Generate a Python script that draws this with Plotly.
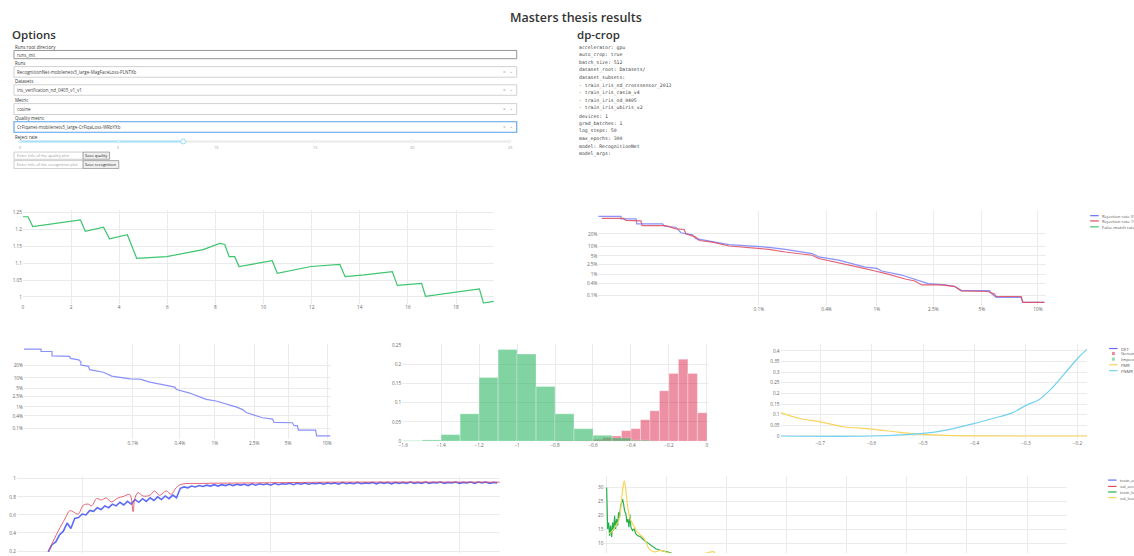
import plotly.graph_objects as go
from statistics import NormalDist

W, H = 1134, 556

# ---------------- data ----------------
# top-left: quality metric per epoch
q_epoch = [0, 0.21, 0.41, 2.39, 2.59, 3.35, 3.6, 4.34, 4.73, 5.97, 7.49, 8.18, 8.39, 8.57, 8.8, 8.98,
           10.36, 10.57, 11.97, 13.17, 13.39, 14.18, 15.35, 15.56, 16.57, 16.73, 18.97, 19.14, 19.56]
q_value = [1.237, 1.237, 1.208, 1.228, 1.194, 1.206, 1.172, 1.184, 1.114, 1.119, 1.140, 1.158, 1.155,
           1.119, 1.119, 1.090, 1.107, 1.070, 1.090, 1.096, 1.060, 1.065, 1.075, 1.034, 1.040, 1.002,
           1.024, 0.982, 0.987]

# top-right: DET curves with rejection (percent)
rej5_fmr = [0.0018, 0.0034, 0.0034, 0.0051, 0.0052, 0.0102, 0.0107, 0.0143, 0.0162, 0.0216, 0.0234,
            0.0348, 0.0441, 0.0513, 0.124, 0.176, 0.303, 0.344, 0.503, 0.644, 0.818, 1.0, 1.09, 1.52,
            1.98, 2.31, 2.97, 3.43, 3.77, 5.54, 5.6, 6.03, 8.22, 8.38, 10.75]
rej5_fnmr = [41.9, 41.9, 38.3, 38.3, 31.7, 31.7, 28.7, 27.5, 21.2, 19.1, 15.5, 13.3, 11.6, 10.9, 9.2,
             8.06, 5.98, 4.66, 3.62, 2.76, 2.02, 1.80, 1.42, 0.97, 0.59, 0.40, 0.351, 0.303, 0.185,
             0.185, 0.147, 0.081, 0.081, 0.043, 0.043]
rej10_fmr = [0.0020, 0.0036, 0.0039, 0.0058, 0.0060, 0.0111, 0.0143, 0.0176, 0.0183, 0.0234, 0.0254,
             0.0348, 0.0513, 0.124, 0.176, 0.303, 0.344, 0.503, 0.77, 0.97, 1.155, 1.61, 1.88, 2.09,
             2.83, 3.43, 3.77, 5.41, 5.9, 6.03, 8.22, 8.38, 10.75]
rej10_fnmr = [39.1, 39.1, 36.4, 35.6, 29.5, 29.5, 25.6, 24.8, 20.1, 16.9, 14.0, 12.7, 10.0, 8.06, 6.7,
              5.3, 4.13, 3.0, 1.90, 1.42, 1.14, 0.655, 0.534, 0.351, 0.351, 0.292, 0.18, 0.166, 0.122,
              0.091, 0.091, 0.043, 0.043]

# middle-left: baseline DET (percent)
det_fmr = [0.00203, 0.0040, 0.0040, 0.0061, 0.0061, 0.0118, 0.0121, 0.0163, 0.0176, 0.0176, 0.0231,
           0.0239, 0.0385, 0.0508, 0.0917, 0.125, 0.169, 0.274, 0.348, 0.364, 0.523, 0.804, 1.03, 1.66,
           1.94, 2.09, 2.99, 3.68, 3.80, 5.43, 5.61, 5.96, 6.07, 8.26, 8.40, 10.58]
det_fnmr = [40.4, 40.4, 37.2, 37.2, 31.5, 30.7, 28.2, 26.6, 24.3, 20.7, 19.4, 16.3, 14.1, 11.2, 9.4,
            9.25, 7.6, 6.0, 5.35, 4.49, 3.39, 1.99, 1.73, 1.0, 0.77, 0.57, 0.327, 0.281, 0.194, 0.188,
            0.133, 0.133, 0.078, 0.078, 0.037, 0.037]
det_ticks = [0.1, 0.4, 1, 2.5, 5, 10, 20]
det_tick_text = ["0.1%", "0.4%", "1%", "2.5%", "5%", "10%", "20%"]

# middle-centre: score histograms (probability)
genuine_centers = [-0.775, -0.725, -0.675, -0.625, -0.575, -0.525, -0.475, -0.425, -0.375, -0.325,
                   -0.275, -0.225, -0.175, -0.125, -0.075, -0.025]
genuine_prob = [0.0017, 0.0017, 0.0017, 0.0017, 0.0051, 0.0094, 0.0137, 0.0275, 0.0326, 0.0558,
                0.079, 0.131, 0.176, 0.213, 0.176, 0.0738]
impostor_centers = [-1.55, -1.45, -1.35, -1.25, -1.15, -1.05, -0.95, -0.85, -0.75, -0.65, -0.55,
                    -0.45, -0.35]
impostor_prob = [0.0017, 0.0034, 0.0172, 0.0712, 0.1656, 0.2385, 0.2265, 0.1424, 0.0712, 0.0326,
                 0.0154, 0.0086, 0.0026]

# middle-right: FMR / FNMR vs threshold
fmr_thr = [-0.777, -0.739, -0.7, -0.655, -0.6, -0.545, -0.5, -0.455, -0.4, -0.3, -0.181]
fmr_val = [0.110, 0.082, 0.0667, 0.0434, 0.0326, 0.017, 0.0078, 0.003, 0.0005, 0.0, 0.0]
fnmr_thr = [-0.777, -0.6, -0.5, -0.455, -0.4, -0.365, -0.326, -0.3, -0.274, -0.248, -0.223, -0.198, -0.181]
fnmr_val = [0.0, 0.0, 0.0124, 0.0279, 0.059, 0.082, 0.110, 0.144, 0.172, 0.229, 0.299, 0.369, 0.408]

# bottom-left: accuracy
train_acc_epoch = list(range(41, 161))
train_acc = [0.19, 0.27, 0.30, 0.38, 0.42, 0.51, 0.45, 0.56, 0.57, 0.61, 0.60, 0.65, 0.64, 0.68, 0.66,
             0.70, 0.68, 0.72, 0.70, 0.74, 0.71, 0.75, 0.72, 0.77, 0.74, 0.78, 0.75, 0.79, 0.76, 0.80,
             0.77, 0.81, 0.78, 0.82, 0.79, 0.895, 0.91, 0.90, 0.92, 0.91, 0.925, 0.915, 0.93, 0.92,
             0.935, 0.92, 0.935, 0.925, 0.94, 0.925, 0.94, 0.93, 0.94, 0.925, 0.945, 0.93, 0.945, 0.935,
             0.945, 0.93, 0.95, 0.935, 0.945, 0.94, 0.95, 0.935, 0.95, 0.94, 0.955, 0.94, 0.95, 0.945,
             0.955, 0.94, 0.955, 0.945, 0.955, 0.94, 0.96, 0.945, 0.955, 0.945, 0.96, 0.945, 0.955, 0.95,
             0.96, 0.945, 0.96, 0.95, 0.96, 0.945, 0.96, 0.95, 0.96, 0.95, 0.965, 0.95, 0.96, 0.95,
             0.965, 0.95, 0.96, 0.955, 0.965, 0.95, 0.96, 0.955, 0.965, 0.95, 0.96, 0.955, 0.965, 0.95,
             0.965, 0.955, 0.965, 0.95, 0.96, 0.955]
val_acc_epoch = [41.0, 43.7, 45.4, 46.7, 47.6, 48.9, 50.3, 51.6, 52.5, 53.8, 55.1, 56.4, 57.7, 59.5,
                 60.8, 62.6, 63.5, 63.9, 64.8, 66.1, 67.9, 69.2, 70.5, 72.3, 73.6, 74.9, 76.2, 82.0,
                 90.8, 99.6, 108.4, 117.2, 160.7]
val_acc = [0.196, 0.426, 0.554, 0.646, 0.635, 0.609, 0.708, 0.719, 0.700, 0.781, 0.766, 0.788, 0.744,
           0.788, 0.803, 0.825, 0.635, 0.774, 0.847, 0.810, 0.817, 0.865, 0.817, 0.865, 0.828, 0.901,
           0.938, 0.949, 0.953, 0.956, 0.960, 0.963, 0.963]

# bottom-right: loss
train_loss_epoch = [0, 0.1, 0.33, 0.66, 0.99, 1.33, 1.66, 1.99, 2.32, 2.65, 2.98, 3.32, 3.65, 3.98,
                    4.31, 4.64, 4.97, 5.30, 5.64, 5.97, 6.41, 6.74, 7.07, 7.40, 7.74, 8.07, 8.62, 9.17,
                    9.72, 10.28, 11.38, 12.49, 13.59, 14.70, 16.35, 18.01, 20.22, 23.54]
train_loss = [30, 20, 15.3, 17.6, 12.9, 16.5, 12.4, 17.6, 14.7, 20, 15.3, 18.8, 16.5, 21.2, 19.4, 23.5,
              24.7, 25.9, 24.1, 21.8, 20.6, 17.6, 18.8, 15.9, 20.4, 15.9, 14.7, 15.3, 13.5, 12.9, 12.4,
              11.2, 10.4, 9.4, 8.2, 7.6, 7.1, 5.9]
val_loss_epoch = [0.88, 1.99, 3.09, 4.2, 4.97, 5.53, 5.86, 6.3, 6.96, 7.85, 8.95, 10.28, 12.49, 14.14,
                  15.8, 18.01, 21.33, 25.75, 32.4, 35.7, 36.2, 44.5]
val_loss = [13.5, 14.7, 16.5, 18.8, 25.9, 30.6, 32.4, 30, 23.5, 18.8, 16.5, 14.1, 11.8, 8.2, 7.1, 7.6,
            6.5, 5.9, 6.5, 7.1, 5.6, 4.7]

config_lines = ["accelerator: gpu", "auto_crop: true", "batch_size: 512", "dataset_root: Datasets/",
                "dataset_subsets:", "- train_iris_nd_crosssensor_2013", "- train_iris_casia_v4",
                "- train_iris_nd_0405", "- train_iris_ubiris_v2", "devices: 1", "grad_batches: 1",
                "log_steps: 50", "max_epochs: 300", "model: RecognitionNet", "model_args:"]

slider_marks = ["0", "5", "10", "15", "20", "25"]

# ---------------- colours ----------------
BLUE = "#636efa"
RED = "#e04a5f"
GREEN = "#3cc46e"
DGREEN = "#22b14c"
YELLOW = "#f8d45c"
CYAN = "#72d2ef"
FONT = "Open Sans, sans-serif"

probit = NormalDist().inv_cdf


def det(values):
    return [probit(v / 100) for v in values]


def dx(a, b):
    return [a / W, b / W]


def dy(top, bottom):
    return [1 - bottom / H, 1 - top / H]


fig = go.Figure()

# top-left
fig.add_trace(go.Scatter(x=q_epoch, y=q_value, mode="lines", line=dict(color=GREEN, width=1.2),
                         xaxis="x", yaxis="y", showlegend=False))
# top-right
fig.add_trace(go.Scatter(x=det(rej5_fmr), y=det(rej5_fnmr), mode="lines", opacity=0.75,
                         line=dict(color=BLUE, width=1.2), xaxis="x2", yaxis="y2", showlegend=False))
fig.add_trace(go.Scatter(x=det(rej10_fmr), y=det(rej10_fnmr), mode="lines", opacity=0.85,
                         line=dict(color=RED, width=1.2), xaxis="x2", yaxis="y2", showlegend=False))
# middle-left
fig.add_trace(go.Scatter(x=det(det_fmr), y=det(det_fnmr), mode="lines", opacity=0.75,
                         line=dict(color=BLUE, width=1.2), xaxis="x3", yaxis="y3", showlegend=False))
# histogram
fig.add_trace(go.Bar(x=genuine_centers, y=genuine_prob, width=0.05, marker_color="crimson", opacity=0.47,
                     marker_line=dict(width=0.5, color="rgba(255,255,255,0.6)"),
                     xaxis="x4", yaxis="y4", showlegend=False))
fig.add_trace(go.Bar(x=impostor_centers, y=impostor_prob, width=0.1, marker_color="#2db865", opacity=0.6,
                     marker_line=dict(width=0.5, color="rgba(255,255,255,0.6)"),
                     xaxis="x4", yaxis="y4", showlegend=False))
# FMR / FNMR
fig.add_trace(go.Scatter(x=fmr_thr, y=fmr_val, mode="lines", line=dict(color=YELLOW, width=1.2, shape="spline"),
                         xaxis="x5", yaxis="y5", showlegend=False))
fig.add_trace(go.Scatter(x=fnmr_thr, y=fnmr_val, mode="lines", line=dict(color=CYAN, width=1.2, shape="spline"),
                         xaxis="x5", yaxis="y5", showlegend=False))
# accuracy
fig.add_trace(go.Scatter(x=train_acc_epoch, y=train_acc, mode="lines", line=dict(color="#4c5cf5", width=1.6),
                         opacity=0.9, xaxis="x6", yaxis="y6", showlegend=False))
fig.add_trace(go.Scatter(x=val_acc_epoch, y=val_acc, mode="lines", line=dict(color=RED, width=1, shape="spline"),
                         opacity=0.85, xaxis="x6", yaxis="y6", showlegend=False))
# loss
fig.add_trace(go.Scatter(x=train_loss_epoch, y=train_loss, mode="lines", line=dict(color=DGREEN, width=1.2),
                         xaxis="x7", yaxis="y7", showlegend=False))
fig.add_trace(go.Scatter(x=val_loss_epoch, y=val_loss, mode="lines", line=dict(color=YELLOW, width=1.2, shape="spline"),
                         xaxis="x7", yaxis="y7", showlegend=False))

axis = dict(showgrid=True, gridcolor="#ebebeb", gridwidth=1, zeroline=False, showline=False, ticks="",
            tickfont=dict(size=4.7, color="#666"))
det_axis = dict(axis, tickvals=det(det_ticks), ticktext=det_tick_text)

fig.update_layout(
    xaxis=dict(axis, domain=dx(19, 492), range=[0, 19.57], dtick=2, anchor="y"),
    yaxis=dict(axis, domain=dy(209, 304), range=[0.98, 1.2577], dtick=0.05, anchor="x"),
    xaxis2=dict(det_axis, domain=dx(597, 1047), range=[-4.13, -1.227], anchor="y2"),
    yaxis2=dict(det_axis, domain=dy(210, 306), range=[-3.452, 0.001], anchor="x2"),
    xaxis3=dict(det_axis, domain=dx(20, 328), range=[-4.104, -1.249], anchor="y3"),
    yaxis3=dict(det_axis, domain=dy(345, 441), range=[-3.494, -0.065], anchor="x3"),
    xaxis4=dict(axis, domain=dx(400, 708), range=[-1.605, 0.0105], dtick=0.2, anchor="y4"),
    yaxis4=dict(axis, domain=dy(345, 443), range=[0, 0.2518], dtick=0.05, anchor="x4"),
    xaxis5=dict(axis, domain=dx(780, 1088), range=[-0.777, -0.181], dtick=0.1, anchor="y5"),
    yaxis5=dict(axis, domain=dy(345, 441), range=[-0.0153, 0.431], dtick=0.05, anchor="x5"),
    xaxis6=dict(axis, domain=dx(13, 498), range=[32.7, 160.7], dtick=50, showticklabels=False, anchor="y6"),
    yaxis6=dict(axis, domain=dy(478, 556), range=[0.178, 1.033], dtick=0.2, anchor="x6"),
    xaxis7=dict(axis, domain=dx(603, 1068), range=[-0.77, 153.4], dtick=20, showticklabels=False, anchor="y7"),
    yaxis7=dict(axis, domain=dy(478, 556), range=[6.7, 34.2], dtick=5, anchor="x7"),
    barmode="overlay",
    width=W, height=H,
    margin=dict(l=0, r=0, t=0, b=0),
    paper_bgcolor="white", plot_bgcolor="white",
    font=dict(family=FONT, color="#444"),
)

shapes = []
notes = []


def text(s, x, y, size=5, color="#333", xanchor="left", family=FONT, weight=None):
    f = dict(size=size, color=color, family=family)
    if weight:
        f["weight"] = weight
    notes.append(dict(text=s, x=x / W, y=1 - y / H, xref="paper", yref="paper", xanchor=xanchor,
                      yanchor="middle", showarrow=False, font=f, borderpad=0))


def rect(x0, y0, x1, y1, line="#ccc", fill="white", width=0.8):
    shapes.append(dict(type="rect", xref="paper", yref="paper", x0=x0 / W, x1=x1 / W, y0=1 - y1 / H,
                       y1=1 - y0 / H, line=dict(color=line, width=width), fillcolor=fill))


def seg(x0, y0, x1, y1, color, width=1):
    shapes.append(dict(type="line", xref="paper", yref="paper", x0=x0 / W, x1=x1 / W, y0=1 - y0 / H,
                       y1=1 - y1 / H, line=dict(color=color, width=width)))


def dot(x, y, r, line, fill="white", width=0.8):
    shapes.append(dict(type="circle", xref="paper", yref="paper", x0=(x - r) / W, x1=(x + r) / W,
                       y0=1 - (y + r) / H, y1=1 - (y - r) / H, line=dict(color=line, width=width), fillcolor=fill))


# headings
text("Masters thesis results", 575, 15, size=12.5, color="#333", xanchor="center", weight=600)
text("Options", 7, 32, size=11.5, color="#333", weight=600)
text("dp-crop", 575, 32, size=11.5, color="#333", weight=600)

# options form
text("Runs root directory", 10, 44.3, size=4.5)
rect(10, 48, 515, 56.3, line="#8a8a8a", width=0.9)
text("runs_init", 12, 52.2, size=4.5, color="#444")

dropdowns = [("Runs", 60.7, 64.3, 75, "RecognitionNet-mobilenetv3_large-MagFaceLoss-PLNTXb", "#ccc"),
             ("Datasets", 79, 82.7, 93.3, "iris_verification_nd_0405_v1_v1", "#ccc"),
             ("Metric", 98, 101.7, 112.7, "cosine", "#ccc"),
             ("Quality metric", 116, 120, 130.7, "CrFiqanet-mobilenetv3_large-CrFiqaLoss-WRbYXb", "#5aa0ea")]
for lab, ly, top, bot, val, border in dropdowns:
    text(lab, 10, ly, size=4.5)
    rect(10, top, 515, bot, line=border, width=0.9 if border == "#ccc" else 1.1)
    text(val, 12.5, (top + bot) / 2, size=4.5, color="#444")
    text("×", 503, (top + bot) / 2, size=4.5, color="#999", xanchor="center")
    text("⌄", 509.5, (top + bot) / 2 - 1, size=4.5, color="#999", xanchor="center")

text("Reject rate", 10, 135, size=4.5)
seg(16, 140, 509, 140, "#e9e9e9", 2)
seg(16, 140, 180, 140, "#abe2fb", 2)
mark_x = [16, 115, 213, 312, 410, 508]
for mx, ml in zip(mark_x, slider_marks):
    dot(mx, 140, 1.3, "#e3e3e3" if mx > 180 else "#abe2fb")
    text(ml, mx, 146.3, size=3.8, color="#999", xanchor="center")
dot(180, 140, 2.4, "#96dbfa", width=1)

rect(10, 150.7, 79.5, 158, line="#bbb", width=0.7)
text("Enter title of the quality plot", 12, 154.4, size=4, color="#9a9a9a")
rect(79.5, 150.7, 106, 158, line="#8a8a8a", fill="#efefef", width=0.7)
text("Save quality", 92.7, 154.4, size=4, color="#222", xanchor="center")
rect(10, 159.3, 79.5, 167.3, line="#bbb", width=0.7)
text("Enter title of the recognition plot", 12, 163.3, size=4, color="#9a9a9a")
rect(79.5, 159.3, 115.3, 167.3, line="#8a8a8a", fill="#efefef", width=0.7)
text("Save recognition", 97.4, 163.3, size=4, color="#222", xanchor="center")

# run config listing
for i, line in enumerate(config_lines):
    text(line, 577, 45 + i * 7.7, size=4.8, color="#444", family="DejaVu Sans Mono, monospace")

# hand-made legends (small, clipped at the right edge like the page)
legends = [
    (1091, 1101.5, [("Rejection rate 5%", BLUE, "line", 215), ("Rejection rate 10%", RED, "line", 220.3),
                    ("False match rate 1%", GREEN, "line", 226.3)]),
    (1110, 1121, [("DET", BLUE, "line", 349.3), ("Genuine", "crimson", "box", 354.3),
                  ("Impostor", "#2db865", "box", 360), ("FMR", YELLOW, "line", 365.7),
                  ("FNMR", CYAN, "line", 371.7)]),
    (1109, 1120, [("train_acc", BLUE, "line", 482.3), ("val_acc", RED, "line", 488.7),
                  ("train_loss", DGREEN, "line", 494.3), ("val_loss", YELLOW, "line", 500)]),
]
for sx, tx, items in legends:
    for name, col, kind, ly in items:
        if kind == "line":
            seg(sx, ly, sx + 8.5, ly, col, 1.2)
        else:
            shapes.append(dict(type="rect", xref="paper", yref="paper", x0=(sx + 2.8) / W, x1=(sx + 5.8) / W,
                               y0=1 - (ly + 1.6) / H, y1=1 - (ly - 1.6) / H, line=dict(width=0),
                               fillcolor=col, opacity=0.5))
        text(name, tx, ly, size=4.3, color="#555", family="Open Sans, sans-serif")

fig.update_layout(shapes=shapes, annotations=notes)

# the page's default body margin would push the 1134x556 figure off its window
fig.write_html("out.html", config={"displayModeBar": False},
               post_script="document.body.style.margin='0px';document.body.style.overflow='hidden';")
